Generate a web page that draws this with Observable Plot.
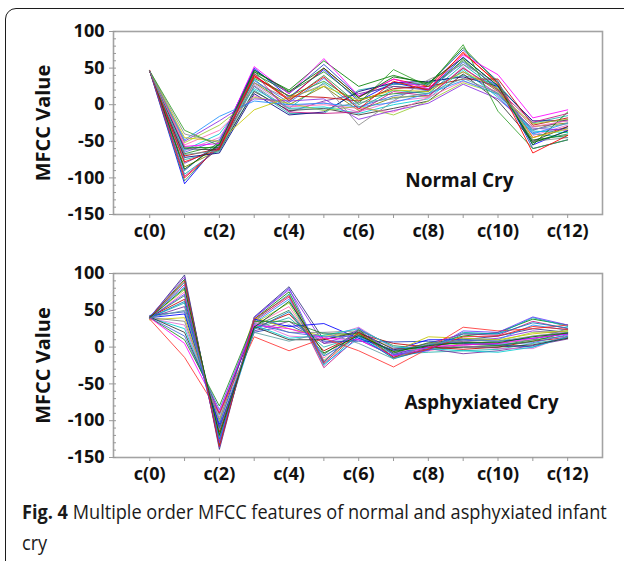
<!DOCTYPE html>
<html>
<head>
<meta charset="utf-8">
<script src="https://cdn.jsdelivr.net/npm/d3@7"></script>
<script src="https://cdn.jsdelivr.net/npm/@observablehq/plot@0.6"></script>
<style>
  html, body { margin: 0; padding: 0; background: #fff; }
  #page { position: relative; width: 624px; height: 561px; overflow: hidden; background: #fff; }
  #border { position: absolute; left: 5px; top: 8px; width: 660px; height: 600px;
            border: 1.6px solid #1c1c1c; border-radius: 11px; box-sizing: border-box; }
  .panel { position: absolute; left: 0; }
  .cap { position: absolute; left: 22px; font-family: "Open Sans", sans-serif; font-size: 20px;
         color: #1a1a1a; white-space: nowrap; transform-origin: left center; line-height: 1; }
  .cap b { font-weight: 700; }
</style>
</head>
<body>
<div id="page">
  <div id="border"></div>
  <div id="top" class="panel" style="top:0px"></div>
  <div id="bottom" class="panel" style="top:250px"></div>
  <div id="cap1" class="cap" style="top:502px"><b>Fig. 4</b> Multiple order MFCC features of normal and asphyxiated infant</div>
  <div id="cap2" class="cap" style="top:533px">cry</div>
</div>
<script>
// ---- data ----
const categories = ["c(0)","c(1)","c(2)","c(3)","c(4)","c(5)","c(6)","c(7)","c(8)","c(9)","c(10)","c(11)","c(12)"];
const labelledCategories = ["c(0)","c(2)","c(4)","c(6)","c(8)","c(10)","c(12)"];
const yTicks = [-150, -100, -50, 0, 50, 100];
const yMinorTicks = [-150,-140,-130,-120,-110,-100,-90,-80,-70,-60,-50,-40,-30,-20,-10,0,10,20,30,40,50,60,70,80,90,100];

const normalCry = [
  [46,-108,-52,50,10,48,5,30,20,65,25,-55,-35],
  [46,-104,-55,45,5,40,0,25,22,60,22,-50,-40],
  [47,-100,-58,40,8,50,10,35,25,70,30,-45,-30],
  [46,-95,-60,35,-5,30,-5,20,15,55,20,-40,-45],
  [46,-90,-50,48,15,55,12,28,28,75,32,-60,-48],
  [46,-85,-62,30,0,25,-8,10,12,50,18,-30,-25],
  [46,-80,-57,25,-10,5,15,25,20,45,15,-35,-20],
  [46,-75,-64,20,-12,-12,20,28,30,40,28,-25,-15],
  [46,-72,-66,15,-14,-10,18,30,32,38,25,-22,-22],
  [46,-70,-60,38,12,10,5,22,25,35,35,-28,-18],
  [46,-67,-55,42,17,45,8,15,18,62,20,-48,-42],
  [46,-65,-48,33,3,36,-3,12,20,58,24,-38,-32],
  [46,-63,-45,28,-2,3,-10,5,10,52,12,-42,-28],
  [46,-62,-40,22,-5,-3,-12,0,8,48,10,-36,-38],
  [46,-60,-62,18,-8,-5,-14,-5,5,42,5,-50,-30],
  [46,-58,-59,45,20,60,25,40,28,78,30,-55,-10],
  [46,-57,-53,52,15,63,12,35,22,68,41,-18,-7],
  [46,-55,-35,12,-3,0,-5,-10,10,32,18,-30,-22],
  [46,-52,-28,10,2,-8,-2,-14,5,30,15,-26,-20],
  [46,-50,-22,8,5,8,-20,-8,2,28,8,-32,-35],
  [46,-48,-16,5,0,2,-3,3,15,33,14,-40,-25],
  [46,-45,-50,-7,10,25,6,20,18,45,22,-45,-33],
  [46,-40,-52,30,8,28,-28,5,34,55,30,-50,-45],
  [46,-35,-56,36,12,32,2,48,25,82,-9,-60,-48],
  [46,-78,-61,40,6,38,-6,32,20,72,28,-66,-42],
  [46,-88,-54,47,18,50,10,38,30,64,26,-52,-36],
  [46,-98,-58,43,-10,-12,-10,18,12,50,20,-24,-12],
  [46,-68,-63,26,-6,-6,3,8,16,36,16,-34,-26]
];

const asphyxiatedCry = [
  [40,98,-139,41,82,10,22,-10,2,10,15,25,20],
  [41,95,-136,40,78,5,20,-8,0,8,12,22,18],
  [40,92,-133,38,75,-20,24,-14,3,15,20,38,30],
  [39,88,-130,36,72,-25,18,-16,-2,20,18,40,28],
  [40,85,-128,35,68,-28,15,-5,5,18,16,35,25],
  [42,82,-125,33,65,-23,12,-12,2,12,10,30,23],
  [40,78,-122,32,60,-18,20,-2,-3,5,8,20,22],
  [38,75,-120,30,55,-15,25,0,-5,3,5,15,20],
  [40,70,-118,28,50,-10,23,2,-3,0,2,10,15],
  [41,65,-115,26,45,-5,18,5,0,-3,0,8,13],
  [40,60,-112,25,40,0,15,-10,-7,-5,-3,5,12],
  [40,55,-110,22,35,5,10,-12,-2,-9,-5,2,11],
  [43,48,-108,20,30,8,8,7,8,5,3,0,15],
  [40,45,-105,38,28,32,12,-4,10,10,8,12,18],
  [37,40,-100,40,25,15,18,-6,14,12,10,18,22],
  [40,35,-98,36,20,20,22,-8,5,8,5,10,25],
  [39,30,-95,34,15,12,27,-2,2,2,-2,-2,16],
  [40,25,-92,30,12,16,25,0,-2,-5,-7,0,14],
  [41,20,-90,28,10,10,20,-3,0,0,0,3,12],
  [40,15,-85,32,20,14,15,-5,3,6,4,6,17],
  [40,10,-80,35,35,18,18,-8,6,4,2,8,20],
  [40,5,-88,30,25,12,10,-12,0,3,5,12,18],
  [38,-14,-90,14,-5,12,-5,-27,-2,27,22,25,30],
  [40,62,-125,24,48,-12,14,-15,-4,18,18,33,26],
  [40,72,-130,40,80,-20,26,-10,-5,22,20,41,30],
  [40,90,-135,38,70,-22,20,-14,-3,14,15,28,24],
  [40,50,-102,20,8,20,5,-16,4,10,8,15,20],
  [40,80,-120,27,62,-8,16,-6,2,6,6,14,19]
];

const normalColors = ["#0000ff","#2e8b57","#ff0000","#00b0b0","#1f3fbf","#808000","#7030a0","#20b2aa",
  "#000080","#c00000","#228b22","#4169e1","#da70d6","#00ced1","#303030","#008000","#ff00ff","#ff69b4",
  "#9acd32","#8a2be2","#1e90ff","#c8c800","#8c8c8c","#33a02c","#ff0000","#006400","#c71585","#5f9ea0"];

const asphyxiatedColors = ["#303080","#8a2be2","#008000","#00b0b0","#c71585","#1e90ff","#9acd32","#ff69b4",
  "#2e8b57","#c00000","#20b2aa","#7030a0","#1f3fbf","#0000ff","#c8c800","#808080","#da70d6","#00ced1",
  "#303030","#4169e1","#228b22","#ff00ff","#ff3333","#0080c0","#6a3dff","#e41a1c","#5f9ea0","#006400"];

const panelTitles = ["Normal Cry", "Asphyxiated Cry"];

// ---- build long tables ----
function toRows(series, colors) {
  const rows = [];
  series.forEach((vals, s) => vals.forEach((v, i) => rows.push({series: s, idx: i, value: v, color: colors[s % colors.length]})));
  return rows;
}

const blank = () => "";

function panel(series, colors, title, opts) {
  const rows = toRows(series, colors);
  const font = "'Open Sans', sans-serif";
  const allIdx = categories.map((c, i) => i);
  const labelIdx = allIdx.filter(i => labelledCategories.includes(categories[i]));
  return Plot.plot({
    width: 624,
    height: 250,
    marginLeft: 113,
    marginRight: 22,
    marginTop: opts.marginTop,
    marginBottom: opts.marginBottom,
    style: {fontFamily: font, fontSize: "18px", fontWeight: "bold", color: "#111", background: "transparent"},
    x: {domain: [-1.04, 13], axis: null},
    y: {domain: [-150, 100], axis: null},
    marks: [
      Plot.line(rows, {x: "idx", y: "value", z: "series", stroke: "color", strokeWidth: 1, strokeOpacity: 0.85}),
      Plot.frame({stroke: "#a3a3a3", strokeWidth: 1.6}),
      Plot.axisY({ticks: yMinorTicks, tickSize: -3, tickFormat: blank, stroke: "#999", label: null}),
      Plot.axisY({ticks: yTicks, tickSize: 4, tickPadding: 5, tickFormat: d => String(d), stroke: "#999", fill: "#111",
                  label: null, fontWeight: "bold", fontSize: 18}),
      Plot.axisX({ticks: allIdx, tickSize: 4, tickFormat: blank, stroke: "#999", label: null}),
      Plot.axisX({ticks: labelIdx, tickSize: 0, tickPadding: 10, tickFormat: i => categories[i], fill: "#111",
                  label: null, fontWeight: "bold", fontSize: 18}),
      Plot.text([title], {frameAnchor: "bottom-right", text: d => d, textAnchor: "end", lineAnchor: "middle",
                  dx: opts.titleDx, dy: opts.titleDy, fontSize: 19, fontWeight: "bold", fill: "#111"}),
      Plot.text(["MFCC Value"], {frameAnchor: "left", text: d => d, rotate: -90, textAnchor: "middle", lineAnchor: "middle",
                  dx: -70, fontSize: 20, fontWeight: "bold", fill: "#111"})
    ]
  });
}

document.getElementById("top").appendChild(panel(normalCry, normalColors, panelTitles[0], {marginTop: 31, marginBottom: 36, titleDx: -89, titleDy: -34}));
document.getElementById("bottom").appendChild(panel(asphyxiatedCry, asphyxiatedColors, panelTitles[1], {marginTop: 23, marginBottom: 43, titleDx: -44, titleDy: -55}));

// fit caption width like the reference (narrow typeface)
function fitCaption() {
  const c1 = document.getElementById("cap1"), c2 = document.getElementById("cap2");
  const w = c1.offsetWidth;
  const k = 585 / w;
  c1.style.transform = `scaleX(${k})`;
  c2.style.transform = `scaleX(${k})`;
}
fitCaption();
if (document.fonts && document.fonts.ready) document.fonts.ready.then(fitCaption);
</script>
</body>
</html>
